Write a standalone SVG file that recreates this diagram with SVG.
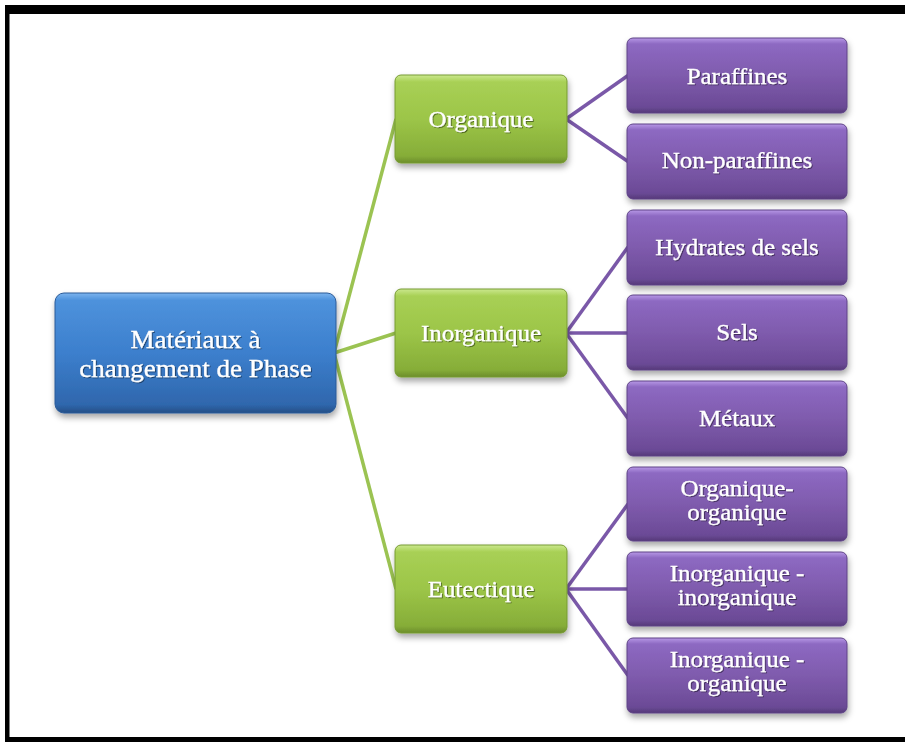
<svg xmlns="http://www.w3.org/2000/svg" width="905" height="742" viewBox="0 0 905 742">
<defs>
<linearGradient id="gBlue" x1="0" y1="0" x2="0" y2="1">
<stop offset="0" stop-color="#7cb4ee"/>
<stop offset="0.06" stop-color="#4e92dc"/>
<stop offset="0.5" stop-color="#3c7fcd"/>
<stop offset="0.93" stop-color="#2f67ad"/>
<stop offset="1" stop-color="#254f86"/>
</linearGradient>
<linearGradient id="gGreen" x1="0" y1="0" x2="0" y2="1">
<stop offset="0" stop-color="#cbe88e"/>
<stop offset="0.08" stop-color="#a8d055"/>
<stop offset="0.5" stop-color="#9cc548"/>
<stop offset="0.92" stop-color="#86ad38"/>
<stop offset="1" stop-color="#6c8d2b"/>
</linearGradient>
<linearGradient id="gPurple" x1="0" y1="0" x2="0" y2="1">
<stop offset="0" stop-color="#b798e6"/>
<stop offset="0.08" stop-color="#8d69c2"/>
<stop offset="0.5" stop-color="#7f5bad"/>
<stop offset="0.92" stop-color="#6b4a96"/>
<stop offset="1" stop-color="#553a79"/>
</linearGradient>
<filter id="sh" x="-10%" y="-20%" width="130%" height="150%">
<feDropShadow dx="1" dy="4" stdDeviation="3" flood-color="#000" flood-opacity="0.35"/>
</filter>
<filter id="tsh" x="-10%" y="-30%" width="120%" height="160%">
<feDropShadow dx="1" dy="1" stdDeviation="0.6" flood-color="#000" flood-opacity="0.45"/>
</filter>
</defs>
<style>
.t { font-family: "Liberation Serif", "Times New Roman", serif; font-size: 24px; fill: #ffffff; stroke: #ffffff; stroke-width: 0.3; text-anchor: middle; transform-box: fill-box; transform-origin: center; transform: scaleX(1.04); filter: url(#tsh); }
.tr { font-size: 26px; transform: scaleX(1.04); }
.blue { fill: url(#gBlue); stroke: #2a5a98; stroke-width: 1; filter: url(#sh); }
.green { fill: url(#gGreen); stroke: #779b33; stroke-width: 1; filter: url(#sh); }
.purple { fill: url(#gPurple); stroke: #5e4386; stroke-width: 1; filter: url(#sh); }
.cg { stroke: #9bc352; stroke-width: 3.5; fill: none; }
.cp { stroke: #7a58a8; stroke-width: 3.5; fill: none; }
</style>
<rect x="0" y="0" width="905" height="742" fill="#ffffff"/>
<!-- frame -->
<rect x="5" y="5" width="900" height="9" fill="#000"/>
<rect x="5" y="5" width="4.5" height="737" fill="#000"/>
<rect x="5" y="737" width="900" height="5" fill="#000"/>

<g id="connectors">
<line class="cg" x1="334" y1="353" x2="396" y2="119"/>
<line class="cg" x1="334" y1="353" x2="396" y2="333"/>
<line class="cg" x1="334" y1="353" x2="396" y2="589"/>
<line class="cp" x1="566" y1="119" x2="628" y2="75.5"/>
<line class="cp" x1="566" y1="119" x2="628" y2="161.5"/>
<line class="cp" x1="566" y1="333" x2="628" y2="247"/>
<line class="cp" x1="566" y1="333" x2="628" y2="333"/>
<line class="cp" x1="566" y1="333" x2="628" y2="418.5"/>
<line class="cp" x1="566" y1="589" x2="628" y2="504"/>
<line class="cp" x1="566" y1="589" x2="628" y2="589"/>
<line class="cp" x1="566" y1="589" x2="628" y2="675.5"/>
</g>

<g id="root">
<rect class="blue" x="55" y="293" width="281" height="120" rx="9"/>
<text class="t tr" x="195.5" y="348">Matériaux à</text>
<text class="t tr" x="195.5" y="377">changement de Phase</text>
</g>

<g id="organique">
<rect class="green" x="395" y="75" width="172" height="88" rx="6"/>
<text class="t" x="481" y="127">Organique</text>
</g>
<g id="inorganique">
<rect class="green" x="395" y="289" width="172" height="88" rx="6"/>
<text class="t" x="481" y="341">Inorganique</text>
</g>
<g id="eutectique">
<rect class="green" x="395" y="545" width="172" height="88" rx="6"/>
<text class="t" x="481" y="597">Eutectique</text>
</g>

<g id="paraffines">
<rect class="purple" x="627" y="38" width="220" height="75" rx="6"/>
<text class="t" x="737" y="84">Paraffines</text>
</g>
<g id="non-paraffines">
<rect class="purple" x="627" y="124" width="220" height="75" rx="6"/>
<text class="t" x="737" y="168.5">Non-paraffines</text>
</g>
<g id="hydrates">
<rect class="purple" x="627" y="210" width="220" height="75" rx="6"/>
<text class="t" x="737" y="255">Hydrates de sels</text>
</g>
<g id="sels">
<rect class="purple" x="627" y="295" width="220" height="75" rx="6"/>
<text class="t" x="737" y="340">Sels</text>
</g>
<g id="metaux">
<rect class="purple" x="627" y="381" width="220" height="75" rx="6"/>
<text class="t" x="737" y="426">Métaux</text>
</g>
<g id="org-org">
<rect class="purple" x="627" y="467" width="220" height="74" rx="6"/>
<text class="t" x="737" y="496">Organique-</text>
<text class="t" x="737" y="520">organique</text>
</g>
<g id="inorg-inorg">
<rect class="purple" x="627" y="552" width="220" height="74" rx="6"/>
<text class="t" x="737" y="581">Inorganique -</text>
<text class="t" x="737" y="605">inorganique</text>
</g>
<g id="inorg-org">
<rect class="purple" x="627" y="638" width="220" height="75" rx="6"/>
<text class="t" x="737" y="667">Inorganique -</text>
<text class="t" x="737" y="691">organique</text>
</g>
</svg>
